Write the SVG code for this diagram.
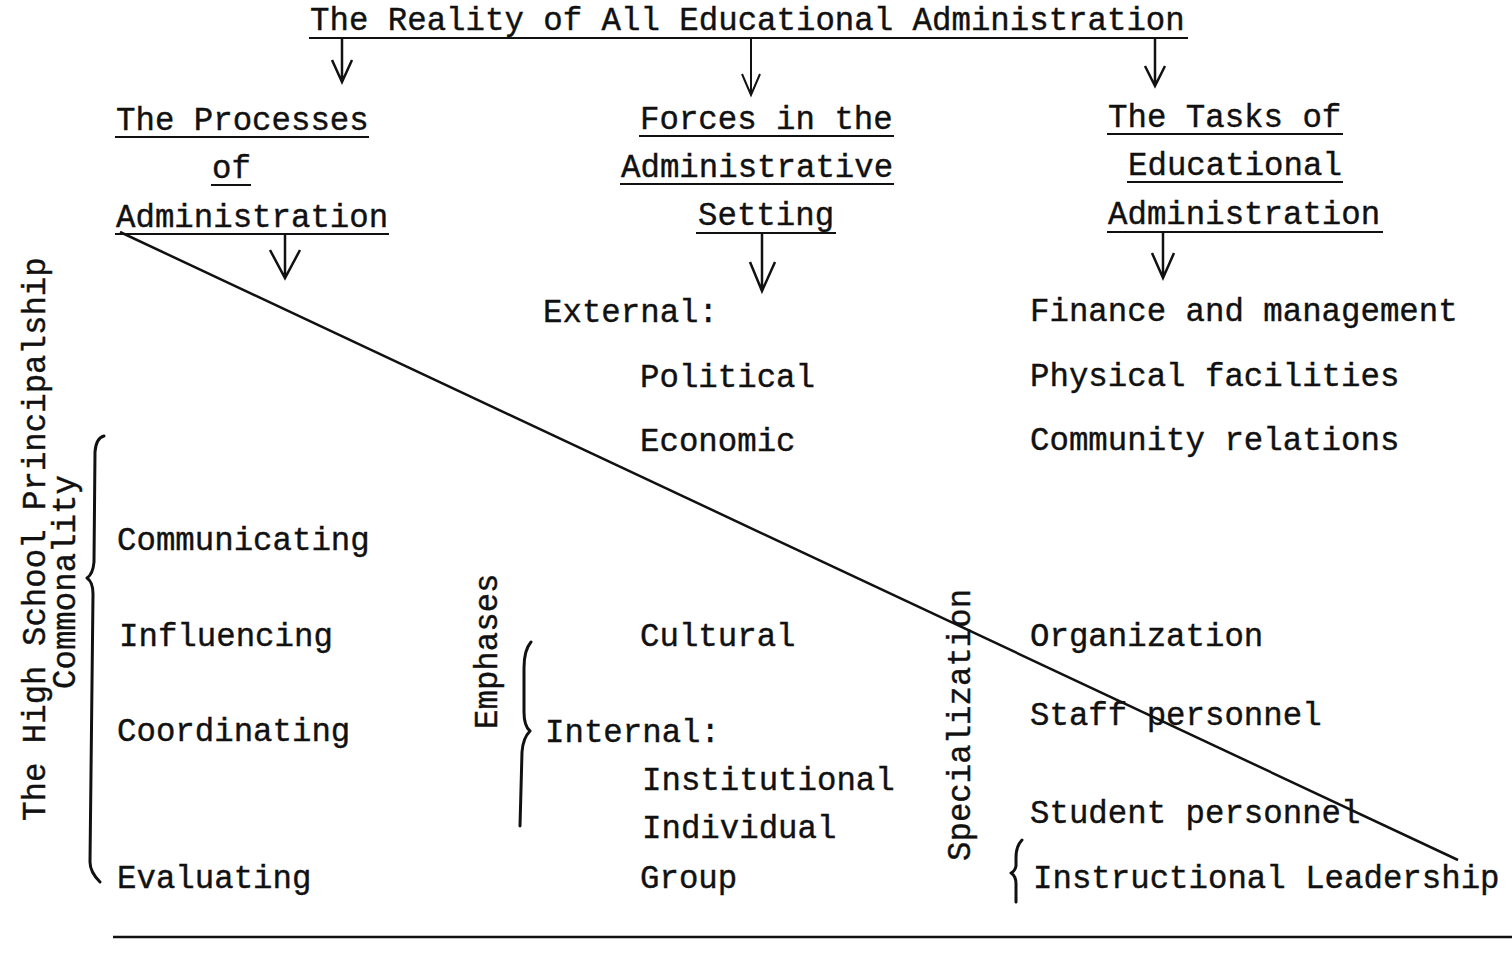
<svg xmlns="http://www.w3.org/2000/svg" width="1512" height="962" viewBox="0 0 1512 962">
<style>
  text { font-family: "Liberation Mono", "Courier New", monospace; font-size: 32.4px; fill: #111; stroke: #111; stroke-width: 0.4; }
  .ul { stroke: #111; stroke-width: 2; fill: none; }
  .ln { stroke: #111; stroke-width: 2.5; fill: none; }
  .brace { stroke: #111; stroke-width: 3; fill: none; stroke-linecap: round; stroke-linejoin: round; }
</style>
<rect width="1512" height="962" fill="#ffffff"/>

<g id="title">
  <text x="310" y="30">The Reality of All Educational Administration</text>
  <line class="ul" x1="309" y1="38" x2="1188" y2="38"/>
</g>

<g id="processes">
  <text x="116" y="130">The Processes</text>
  <line class="ul" x1="115" y1="137" x2="369" y2="137"/>
  <text x="212" y="178">of</text>
  <line class="ul" x1="211" y1="185" x2="251" y2="185"/>
  <text x="116" y="227">Administration</text>
  <line class="ul" x1="115" y1="234" x2="389" y2="234"/>
</g>

<g id="forces">
  <text x="640" y="129">Forces in the</text>
  <line class="ul" x1="639" y1="136" x2="894" y2="136"/>
  <text x="621" y="177">Administrative</text>
  <line class="ul" x1="620" y1="184" x2="894" y2="184"/>
  <text x="698" y="225">Setting</text>
  <line class="ul" x1="696" y1="233" x2="836" y2="233"/>
</g>

<g id="tasks">
  <text x="1108" y="127">The Tasks of</text>
  <line class="ul" x1="1107" y1="134" x2="1343" y2="134"/>
  <text x="1128" y="175">Educational</text>
  <line class="ul" x1="1127" y1="182" x2="1343" y2="182"/>
  <text x="1108" y="224">Administration</text>
  <line class="ul" x1="1107" y1="232" x2="1383" y2="232"/>
</g>

<g id="principalship">
  <text transform="translate(45,821) rotate(-90)">The High School Principalship</text>
</g>

<g id="commonality">
  <text transform="translate(75,689) rotate(-90)">Commonality</text>
  <path class="brace" d="M104,436 Q96,438 95,452 L94,562 Q93,574 87,578 Q93,582 93,594 L90,862 Q90,872 100,882"/>
  <text x="117" y="550">Communicating</text>
  <text x="119" y="646">Influencing</text>
  <text x="117" y="741">Coordinating</text>
  <text x="117" y="888">Evaluating</text>
</g>

<g id="external">
  <text x="543" y="322">External:</text>
  <text x="640" y="387">Political</text>
  <text x="640" y="451">Economic</text>
  <text x="640" y="646">Cultural</text>
</g>

<g id="emphases">
  <text transform="translate(497,729) rotate(-90)">Emphases</text>
  <path class="brace" d="M531,642 Q524,650 524,668 L524,712 Q524,726 530,731 Q523,738 522,752 L520,826"/>
  <text x="545" y="742">Internal:</text>
  <text x="642" y="790">Institutional</text>
  <text x="642" y="838">Individual</text>
  <text x="640" y="888">Group</text>
</g>

<g id="task-list">
  <text x="1030" y="321">Finance and management</text>
  <text x="1030" y="386">Physical facilities</text>
  <text x="1030" y="450">Community relations</text>
  <text x="1030" y="646">Organization</text>
  <text x="1030" y="725">Staff personnel</text>
  <text x="1030" y="823">Student personnel</text>
</g>

<g id="specialization">
  <text transform="translate(970,861) rotate(-90)">Specialization</text>
  <path class="brace" d="M1022,840 Q1016,846 1016,858 L1016,866 Q1015,871 1011,873 Q1016,876 1016,884 L1016,902"/>
  <text x="1033" y="888">Instructional Leadership</text>
</g>

<g id="connectors">
  <!-- arrows from the title -->
  <path class="ln" d="M342,38 L342,80 M332,60 L342,82 L352,60"/>
  <path class="ul" d="M751,38 L751,94 M742,74 L751,95 L760,74"/>
  <path class="ln" d="M1155,38 L1155,84 M1145,66 L1155,86 L1165,66"/>
  <!-- arrows from the three column headings -->
  <path class="ln" d="M285,234 L285,277 M270,250 L285,278 L300,250"/>
  <path class="ln" d="M762,233 L762,290 M750,262 L762,291 L775,262"/>
  <path class="ln" d="M1163,232 L1163,277 M1152,253 L1163,278 L1174,253"/>
  <!-- diagonal from commonality to specialization -->
  <line class="ln" x1="120" y1="232" x2="1458" y2="860"/>
  <!-- closing rule -->
  <line class="ln" x1="113" y1="937" x2="1512" y2="937"/>
</g>
</svg>
